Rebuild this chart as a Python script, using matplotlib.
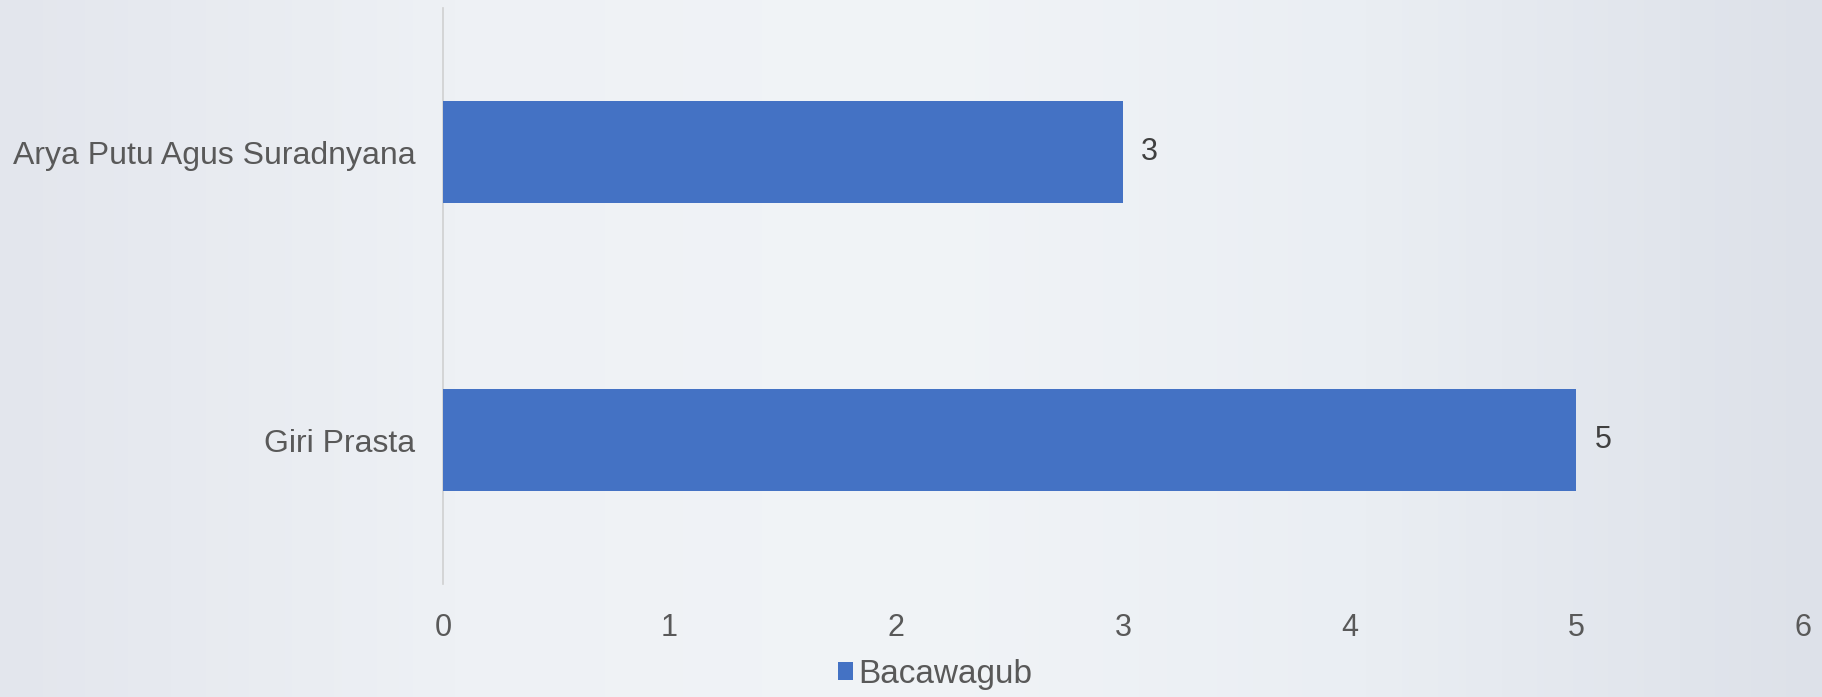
import numpy as np
import matplotlib
matplotlib.use("Agg")
import matplotlib.pyplot as plt
from matplotlib.colors import LinearSegmentedColormap

# data
names = ["Giri Prasta", "Arya Putu Agus Suradnyana"]
values = [5, 3]
series_name = "Bacawagub"
xticks = [0, 1, 2, 3, 4, 5, 6]

BAR = "#4472C4"
TXT = "#595959"

plt.rcParams["font.family"] = ["Liberation Sans", "DejaVu Sans"]

fig = plt.figure(figsize=(18.22, 6.97), dpi=100)

# soft slide-style background gradient
bg = fig.add_axes([0, 0, 1, 1], zorder=-10)
cmap = LinearSegmentedColormap.from_list(
    "bg", ["#e3e6ed", "#eef1f5", "#f1f4f7", "#eaeef3", "#dde1e9"])
bg.imshow(np.linspace(0, 1, 256)[None, :], aspect="auto", cmap=cmap,
          extent=[0, 1, 0, 1])
bg.axis("off")

ax = fig.add_axes([0.2431, 0.162, 0.7465, 0.826])
ax.patch.set_alpha(0)

y = np.arange(len(names))
bars = ax.barh(y, values, height=0.355, color=BAR, label=series_name, zorder=3)

for b, v in zip(bars, values):
    ax.text(b.get_width() + 0.08, b.get_y() + b.get_height() / 2, str(v),
            va="center", ha="left", fontsize=22, color="#404040")

ax.set_xlim(0, 6)
ax.set_ylim(-0.5, 1.5)
ax.set_xticks(xticks)
ax.set_yticks(y)
ax.set_yticklabels(names)

for s in ["top", "right", "bottom"]:
    ax.spines[s].set_visible(False)
ax.spines["left"].set_color("#d0d0d0")
ax.spines["left"].set_linewidth(1.2)

ax.tick_params(axis="x", length=0, pad=21, labelsize=22, labelcolor=TXT)
ax.tick_params(axis="y", length=0, pad=20, labelsize=23, labelcolor=TXT)

fig.legend(handles=[bars], labels=[series_name], loc="center",
           bbox_to_anchor=(935 / 1822, 1 - 674 / 697), frameon=False,
           fontsize=24, labelcolor=TXT, handlelength=0.45, handleheight=0.45,
           handletextpad=0.15)

fig.savefig("out.png", dpi=100)
